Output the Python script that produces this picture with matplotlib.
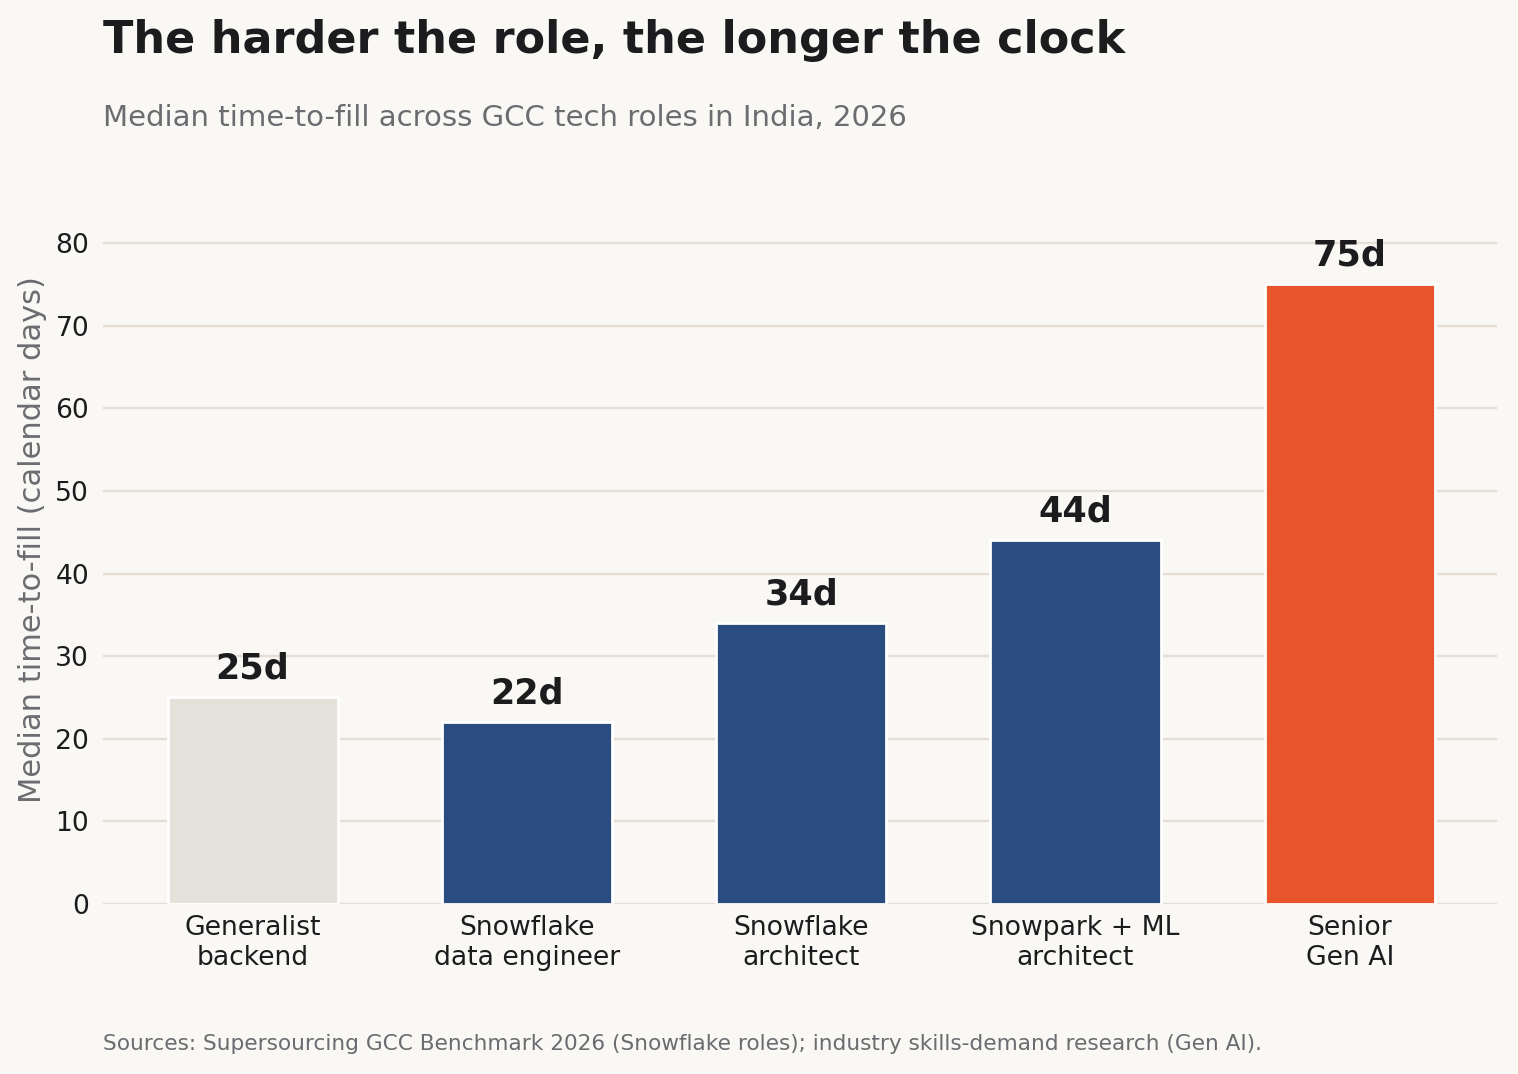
import numpy as np
import matplotlib.pyplot as plt

roles = ["Generalist\nbackend", "Snowflake\ndata engineer", "Snowflake\narchitect",
         "Snowpark + ML\narchitect", "Senior\nGen AI"]
days = [25, 22, 34, 44, 75]
colors = ["#E4E0DA", "#2B4C7E", "#2B4C7E", "#2B4C7E", "#E8552D"]

bg = "#F9F8F5"
dark = "#1C1C1F"
grey = "#6B6B70"

fig = plt.figure(figsize=(7.59, 5.37), dpi=200, facecolor=bg)
ax = fig.add_axes([0.0679, 0.1583, 0.918, 0.6777])
ax.set_facecolor(bg)

x = np.arange(len(roles))
ax.bar(x, days, width=0.62, color=colors, edgecolor="white", linewidth=1.0, zorder=3)

for xi, d in zip(x, days):
    ax.text(xi, d + 1.4, f"{d}d", ha="center", va="bottom",
            fontsize=12.6, fontweight="bold", color=dark)

ax.set_xlim(-0.545, 4.535)
ax.set_ylim(0, 88.1)
ax.set_yticks(range(0, 81, 10))
ax.set_xticks(x)
ax.set_xticklabels(roles, fontsize=9.6, color=dark, linespacing=1.2)
ax.tick_params(axis="y", labelsize=9.6, labelcolor=dark, length=0, pad=5)
ax.tick_params(axis="x", length=0, pad=4)
ax.grid(axis="y", color="#E6DED4", linewidth=0.85, zorder=0)
for s in ax.spines.values():
    s.set_visible(False)

ax.set_ylabel("Median time-to-fill (calendar days)", fontsize=11, color=grey, labelpad=3)

fig.text(0.0679, 0.942, "The harder the role, the longer the clock",
         fontsize=16, fontweight="bold", color=dark, va="bottom")
fig.text(0.0679, 0.877, "Median time-to-fill across GCC tech roles in India, 2026",
         fontsize=10.5, color=grey, va="bottom")
fig.text(0.0679, 0.019, "Sources: Supersourcing GCC Benchmark 2026 (Snowflake roles); "
         "industry skills-demand research (Gen AI).",
         fontsize=7.8, color=grey, va="bottom")

fig.savefig("out.png", dpi=200, facecolor=bg)
